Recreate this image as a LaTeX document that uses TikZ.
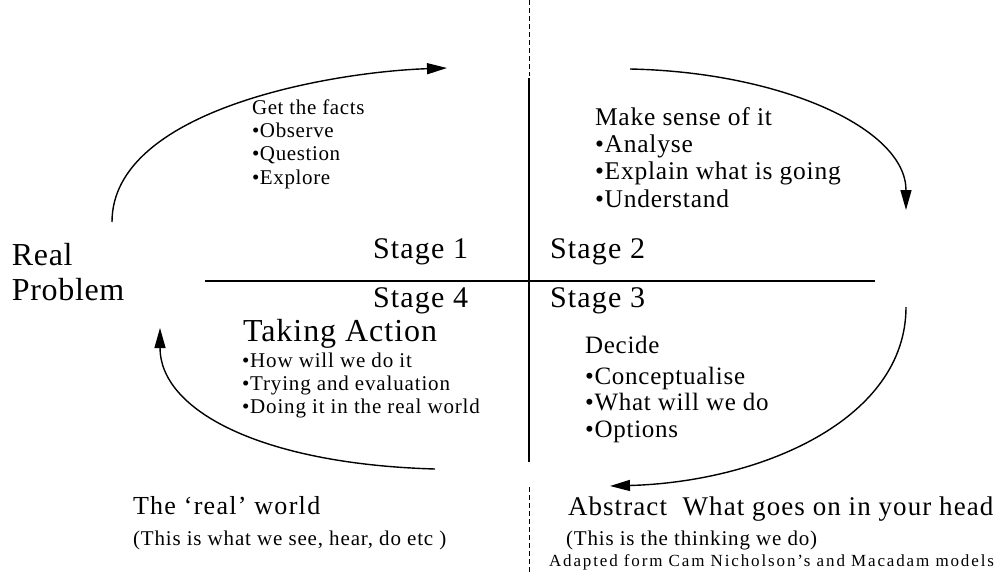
\documentclass[tikz,border=0pt]{standalone}
\usepackage{fontspec}
\setmainfont{Liberation Serif}
\usetikzlibrary{arrows.meta}
\newcommand\fsz[3]{\fontsize{#1}{#2}\selectfont\addfontfeatures{LetterSpace=#3}}
\begin{document}
\begin{tikzpicture}[x=1pt,y=-1pt,
  lbl/.style={inner sep=0pt, outer sep=0pt, anchor=base west},
  axisline/.style={line width=2.4pt},
  divider/.style={line width=0.8pt, dash pattern=on 5pt off 3pt},
  flow/.style={line width=1.4pt, -{Triangle[length=20pt,width=11pt]}}]
\useasboundingbox (0,0) rectangle (998,574);
% axes
\coordinate (vtop) at (529,0);
\coordinate (vt1) at (529,76);
\coordinate (vs1) at (529,78);
\coordinate (vs2) at (529,462);
\coordinate (vb1) at (529,487);
\coordinate (vbot) at (529,574);
\coordinate (hl) at (205,281);
\coordinate (hr) at (875,281);
\draw[divider] (vtop) -- (vt1);
\draw[divider] (vb1) -- (vbot);
\draw[axisline] (vs1) -- (vs2);
\draw[axisline] (hl) -- (hr);
% stage labels
\node[lbl, font=\fsz{30}{33}{4}] (s1) at (373,258) {Stage 1};
\node[lbl, font=\fsz{30}{33}{4}] (s2) at (550,258) {Stage 2};
\node[lbl, font=\fsz{30}{33}{4}] (s4) at (373,307) {Stage 4};
\node[lbl, font=\fsz{30}{33}{4}] (s3) at (550,307) {Stage 3};
% real problem
\node[lbl, font=\fsz{32}{35}{2}] (real) at (12,265)
  {\begin{tabular}[t]{@{}l@{}}Real\\Problem\end{tabular}};
% quadrant texts
\node[lbl, font=\fsz{21}{23.4}{3}] (facts) at (252,114)
  {\begin{tabular}[t]{@{}l@{}}Get the facts\\•Observe\\•Question\\•Explore\end{tabular}};
\node[lbl, font=\fsz{25.5}{27.4}{3}] (sense) at (595,125)
  {\begin{tabular}[t]{@{}l@{}}Make sense of it\\•Analyse\\•Explain what is going\\•Understand\end{tabular}};
\node[lbl, font=\fsz{32}{34}{3}] (act) at (243,341) {Taking Action};
\node[lbl, font=\fsz{21}{23.3}{4}] (actl) at (242,367)
  {\begin{tabular}[t]{@{}l@{}}•How will we do it\\•Trying and evaluation\\•Doing it in the real world\end{tabular}};
\node[lbl, font=\fsz{25}{26.5}{3}] (decide) at (585,353)
  {\begin{tabular}[t]{@{}l@{}}Decide\\[4.5pt]•Conceptualise\\•What will we do\\•Options\end{tabular}};
% bottom texts
\node[lbl, font=\fsz{26}{28}{5}] (rw) at (133,514) {The ‘real’ world};
\node[lbl, font=\fsz{21}{24}{4}] (rwsub) at (133,545) {(This is what we see, hear, do etc )};
\node[lbl, font=\fsz{27}{30}{4}] (abs) at (568,515) {Abstract~ What goes on in your head};
\node[lbl, font=\fsz{21}{24}{4}] (abssub) at (566,545) {(This is the thinking we do)};
\node[lbl, font=\fsz{17}{20}{11}] (adapt) at (549,566) {Adapted form Cam Nicholson's and Macadam models};
% cycle arrows
\coordinate (a1s) at (112,222);
\coordinate (a1e) at (447,68);
\coordinate (a2s) at (630,69);
\coordinate (a2e) at (906,210);
\coordinate (a3s) at (906,307);
\coordinate (a3e) at (610,486);
\coordinate (a4s) at (435,469);
\coordinate (a4e) at (160,328);
\draw[flow] (a1s) .. controls (112,110) and (330,72) .. (a1e);
\draw[flow] (a2s) .. controls (780,72) and (906,128) .. (a2e);
\draw[flow] (a3s) .. controls (906,420) and (760,482) .. (a3e);
\draw[flow] (a4s) .. controls (260,464) and (160,410) .. (a4e);
\end{tikzpicture}
\end{document}
